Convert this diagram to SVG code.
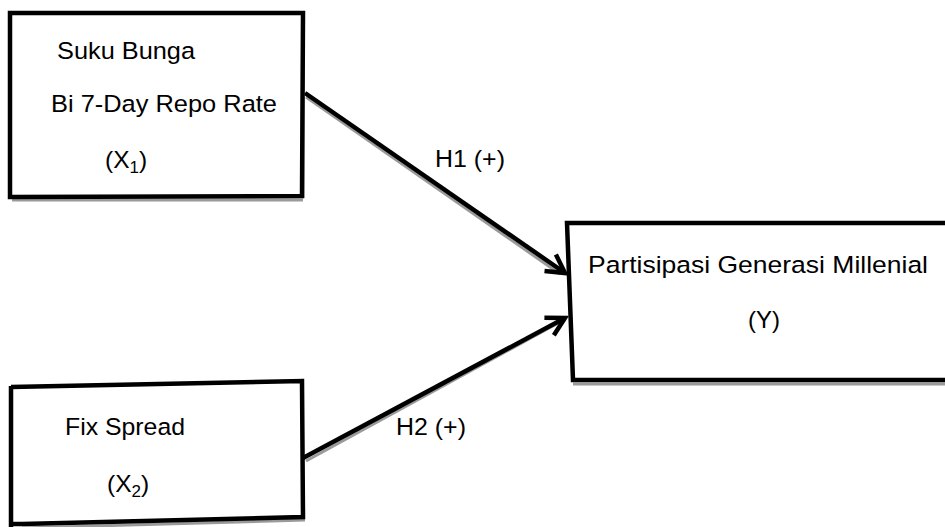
<svg xmlns="http://www.w3.org/2000/svg" width="945" height="527" viewBox="0 0 945 527">
<defs>
<style>
.box{fill:#fff;stroke:#000;stroke-width:4.5;stroke-linejoin:miter}
.sh{fill:none;stroke:#9a9a9a;stroke-width:3}
.edge{stroke:#000;stroke-width:4.5;fill:none}
.esh{stroke:#9a9a9a;stroke-width:3;fill:none}
.t{font-family:"Liberation Sans",Arial,sans-serif;font-size:24.5px;fill:#000}
.sub{font-size:17px}
</style>
<marker id="ah" markerWidth="26" markerHeight="26" refX="22" refY="12" orient="auto" markerUnits="userSpaceOnUse">
<path d="M4,2 L22,12 L4,22" fill="none" stroke="#000" stroke-width="4.5" stroke-linejoin="miter"/>
</marker>
</defs>
<rect width="945" height="527" fill="#fff"/>
<g id="connectors">
<path class="esh" d="M306,97 L560,274"/>
<path class="esh" d="M306,461 L560,322"/>
<path class="edge" d="M305,93 L565,273" marker-end="url(#ah)"/>
<path class="edge" d="M303,458 L565,318" marker-end="url(#ah)"/>
<text class="t" x="435" y="167" textLength="70" lengthAdjust="spacingAndGlyphs">H1 (+)</text>
<text class="t" x="396" y="435" textLength="70" lengthAdjust="spacingAndGlyphs">H2 (+)</text>
</g>
<g id="x1">
<path class="sh" d="M12,17 L303,17 M303,17 L303,198 M12,200 L303,200"/>
<path class="box" d="M10,13 L303,13 L302,196 L10,197 Z"/>
<text class="t" x="57" y="59" textLength="138" lengthAdjust="spacingAndGlyphs">Suku Bunga</text>
<text class="t" x="51" y="112" textLength="226" lengthAdjust="spacingAndGlyphs">Bi 7-Day Repo Rate</text>
<text class="t" x="105" y="168">(X<tspan class="sub" dy="5">1</tspan><tspan dy="-5">)</tspan></text>
</g>
<g id="x2">
<path class="sh" d="M12,391 L302,385 M22,528 L305,520"/>
<path class="box" d="M11,387 L302,381 L303,517 L22,524 L12,524"/>
<path class="edge" d="M11,386 L11,527"/>
<text class="t" x="65" y="435" textLength="120" lengthAdjust="spacingAndGlyphs">Fix Spread</text>
<text class="t" x="107" y="492">(X<tspan class="sub" dy="5">2</tspan><tspan dy="-5">)</tspan></text>
</g>
<g id="y">
<path class="sh" d="M570,227 L945,227 M573,384 L945,384"/>
<path class="box" d="M567,223 L950,223 L950,380 L573,380 Z"/>
<text class="t" x="588" y="273" textLength="340" lengthAdjust="spacingAndGlyphs">Partisipasi Generasi Millenial</text>
<text class="t" x="748" y="328" textLength="32" lengthAdjust="spacingAndGlyphs">(Y)</text>
</g>
</svg>
